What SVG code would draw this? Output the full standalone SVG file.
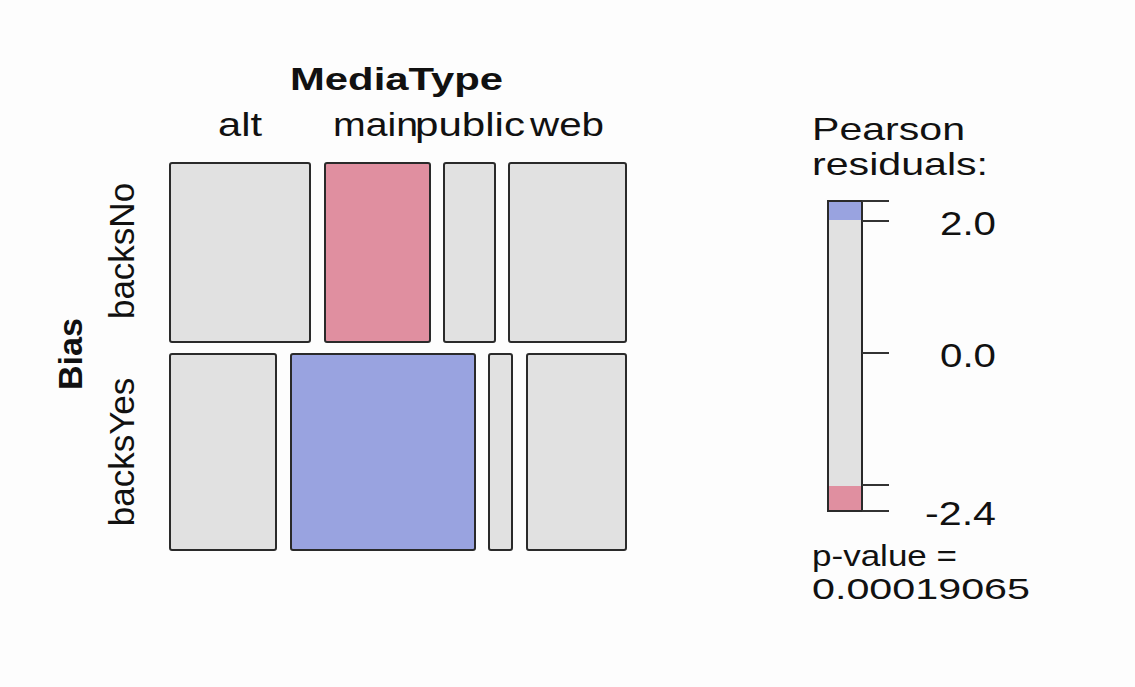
<svg xmlns="http://www.w3.org/2000/svg" width="1135" height="687" viewBox="0 0 1135 687">
<style>
.t{font-family:"Liberation Sans",Arial,sans-serif;fill:#111;}
.b{font-weight:bold;}
.cell{stroke:#2a2a2a;stroke-width:2;}
.g{fill:#e1e1e1;}
.r{fill:#e08fa0;}
.u{fill:#99a3e0;}
.tick{stroke:#333;stroke-width:2;}
</style>
<rect width="1135" height="687" fill="#fdfdfd"/>
<g id="title">
<text class="t b" x="290" y="90" font-size="31" textLength="213" lengthAdjust="spacingAndGlyphs">MediaType</text>
</g>
<g id="col-labels">
<text class="t" x="218" y="136" font-size="34" textLength="44" lengthAdjust="spacingAndGlyphs">alt</text>
<text class="t" x="333" y="136" font-size="34" textLength="85" lengthAdjust="spacingAndGlyphs">main</text>
<text class="t" x="415" y="136" font-size="34" textLength="110" lengthAdjust="spacingAndGlyphs">public</text>
<text class="t" x="530" y="136" font-size="34" textLength="74" lengthAdjust="spacingAndGlyphs">web</text>
</g>
<g id="row-labels">
<text class="t b" transform="translate(82,354) rotate(-90)" text-anchor="middle" font-size="34" textLength="72" lengthAdjust="spacingAndGlyphs">Bias</text>
<text class="t" transform="translate(134,251) rotate(-90)" text-anchor="middle" font-size="35">backsNo</text>
<text class="t" transform="translate(134,452) rotate(-90)" text-anchor="middle" font-size="35">backsYes</text>
</g>
<g id="cell-backsNo-alt"><rect class="cell g" x="170" y="163" width="140" height="179" rx="2"/></g>
<g id="cell-backsNo-main"><rect class="cell r" x="325" y="163" width="105" height="179" rx="2"/></g>
<g id="cell-backsNo-public"><rect class="cell g" x="444" y="163" width="51" height="179" rx="2"/></g>
<g id="cell-backsNo-web"><rect class="cell g" x="509" y="163" width="117" height="179" rx="2"/></g>
<g id="cell-backsYes-alt"><rect class="cell g" x="170" y="354" width="106" height="196" rx="2"/></g>
<g id="cell-backsYes-main"><rect class="cell u" x="291" y="354" width="184" height="196" rx="2"/></g>
<g id="cell-backsYes-public"><rect class="cell g" x="489" y="354" width="23" height="196" rx="2"/></g>
<g id="cell-backsYes-web"><rect class="cell g" x="527" y="354" width="99" height="196" rx="2"/></g>
<g id="legend">
<text class="t" x="812" y="140" font-size="32" textLength="153" lengthAdjust="spacingAndGlyphs">Pearson</text>
<text class="t" x="812" y="175" font-size="32" textLength="176" lengthAdjust="spacingAndGlyphs">residuals:</text>
<rect class="g" x="828" y="201" width="34" height="310"/>
<rect class="u" x="828" y="201" width="34" height="19"/>
<rect class="r" x="828" y="486" width="34" height="25"/>
<rect x="828" y="201" width="34" height="310" fill="none" stroke="#2a2a2a" stroke-width="2"/>
<line class="tick" x1="862" y1="201" x2="889" y2="201"/>
<line class="tick" x1="862" y1="221" x2="889" y2="221"/>
<line class="tick" x1="862" y1="353" x2="889" y2="353"/>
<line class="tick" x1="862" y1="485" x2="889" y2="485"/>
<line class="tick" x1="862" y1="511" x2="889" y2="511"/>
<text class="t" x="996" y="235" font-size="34" text-anchor="end" textLength="56" lengthAdjust="spacingAndGlyphs">2.0</text>
<text class="t" x="996" y="367" font-size="34" text-anchor="end" textLength="56" lengthAdjust="spacingAndGlyphs">0.0</text>
<text class="t" x="996" y="525" font-size="34" text-anchor="end" textLength="71" lengthAdjust="spacingAndGlyphs">-2.4</text>
<text class="t" x="812" y="566" font-size="30" textLength="145" lengthAdjust="spacingAndGlyphs">p-value =</text>
<text class="t" x="812" y="599" font-size="30" textLength="218" lengthAdjust="spacingAndGlyphs">0.00019065</text>
</g>
<g id="connectors"/>
</svg>
